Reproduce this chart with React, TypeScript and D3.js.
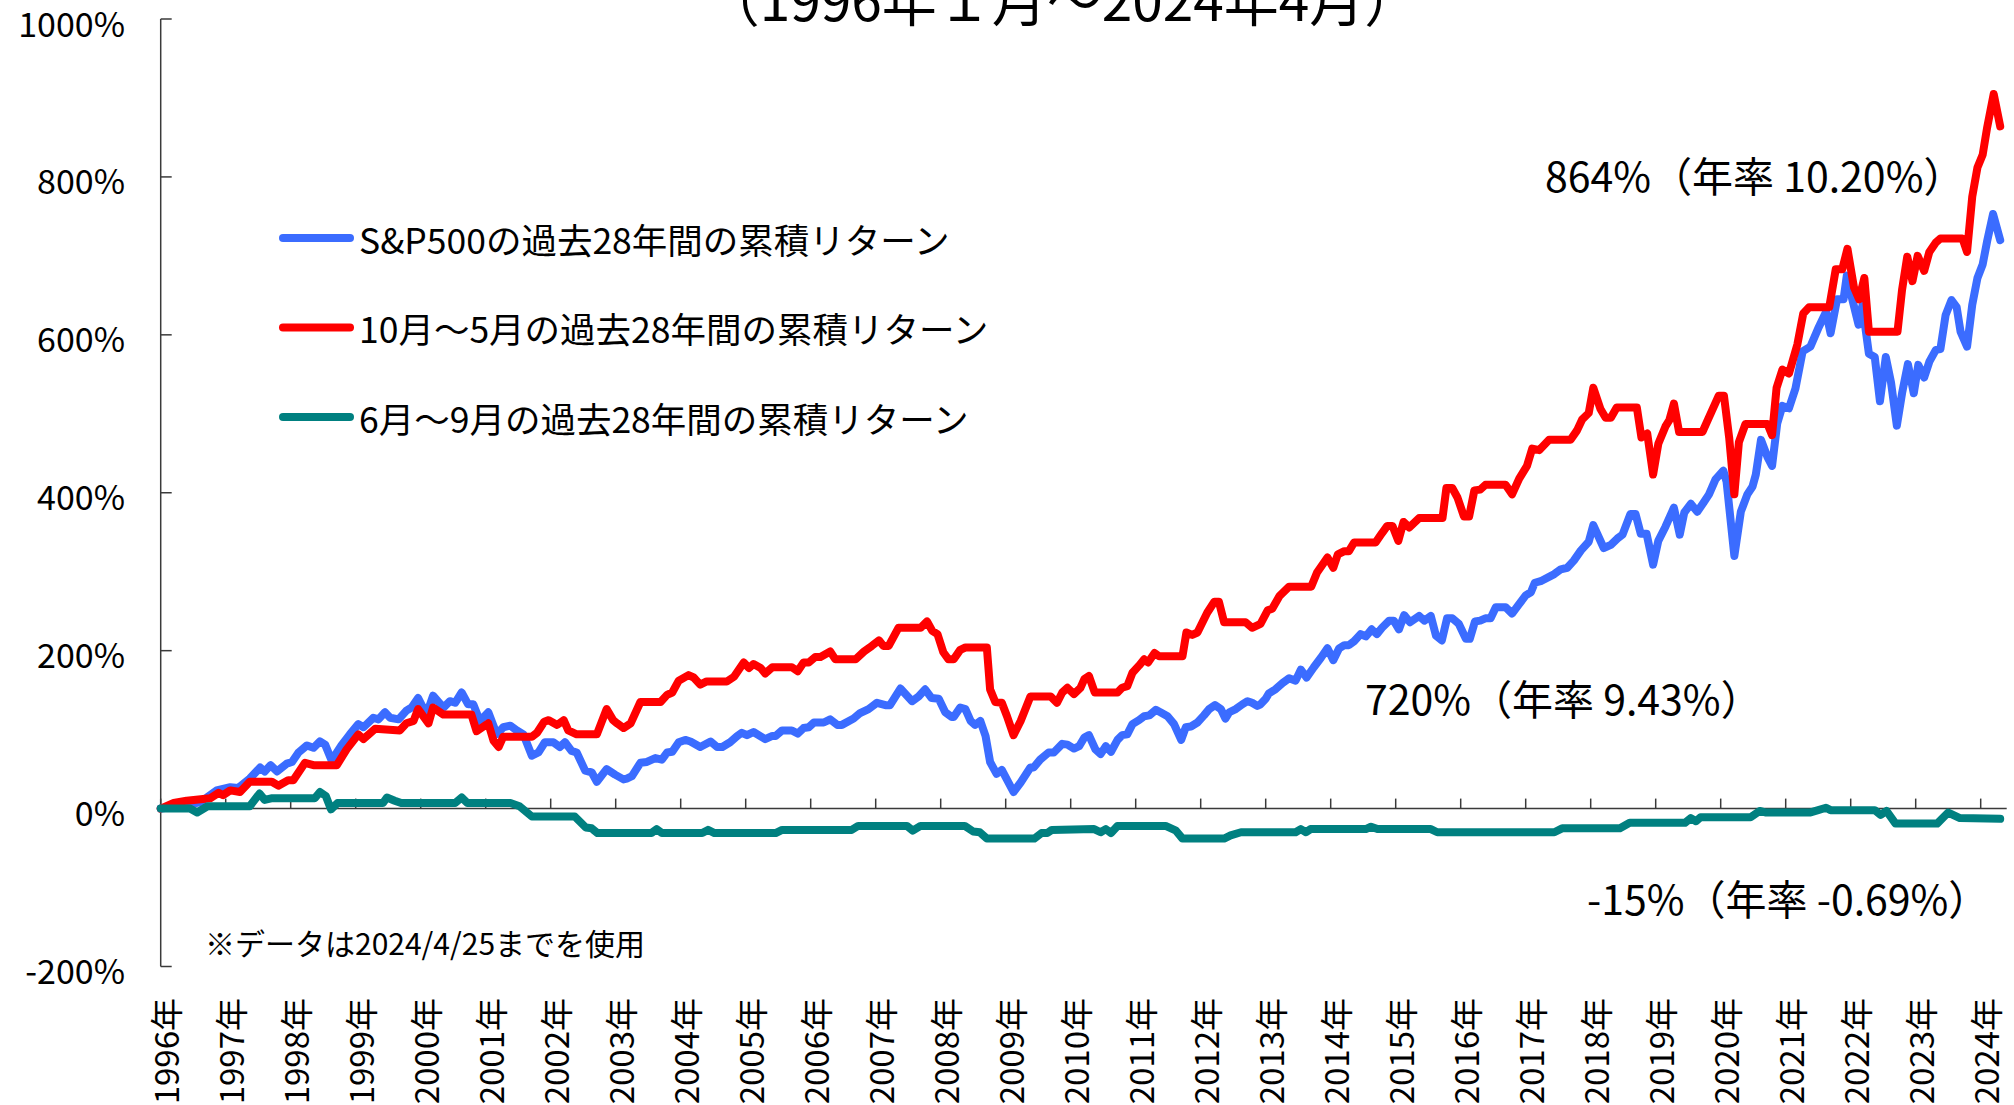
import React, { useEffect, useRef } from "react";
import * as d3 from "d3";

// each point: [years since Jan 1996, cumulative return in %]
const sp500Series: [number, number][] = [
  [0, 0], [0.3, 3], [0.6, 8], [0.71, 14], [0.86, 23], [1.07, 27], [1.19, 26], [1.37, 38], [1.53, 52], [1.6, 47],
  [1.69, 55], [1.79, 47], [1.94, 57], [2.02, 59], [2.12, 71], [2.25, 80], [2.35, 77], [2.45, 85], [2.53, 81], [2.63, 61],
  [2.78, 80], [2.91, 94], [3.04, 107], [3.12, 103], [3.27, 115], [3.35, 113], [3.45, 122], [3.53, 115], [3.66, 113], [3.78, 124],
  [3.86, 128], [3.96, 140], [4.09, 119], [4.19, 143], [4.35, 128], [4.45, 136], [4.53, 134], [4.63, 147], [4.73, 132], [4.81, 132],
  [4.91, 111], [5.04, 122], [5.17, 94], [5.27, 103], [5.38, 105], [5.48, 99], [5.58, 94], [5.71, 67], [5.81, 71], [5.91, 84],
  [6.04, 84], [6.14, 78], [6.22, 84], [6.32, 73], [6.4, 71], [6.53, 48], [6.63, 46], [6.71, 34], [6.86, 50], [6.99, 43],
  [7.12, 37], [7.17, 38], [7.25, 41], [7.38, 58], [7.48, 59], [7.61, 64], [7.71, 62], [7.79, 71], [7.87, 72], [7.97, 84],
  [8.07, 87], [8.15, 85], [8.3, 78], [8.46, 85], [8.56, 78], [8.64, 78], [8.76, 84], [8.87, 92], [8.94, 96], [9.02, 93],
  [9.12, 97], [9.3, 88], [9.41, 92], [9.46, 92], [9.56, 99], [9.71, 99], [9.8, 95], [9.89, 102], [9.97, 103], [10.05, 109],
  [10.2, 109], [10.3, 113], [10.41, 106], [10.48, 106], [10.66, 114], [10.76, 121], [10.89, 126], [11.02, 134], [11.15, 131], [11.22, 131],
  [11.38, 152], [11.56, 136], [11.66, 142], [11.76, 151], [11.86, 140], [11.97, 139], [12.07, 122], [12.17, 116], [12.2, 116], [12.3, 128],
  [12.38, 126], [12.46, 111], [12.53, 106], [12.61, 111], [12.69, 92], [12.76, 59], [12.86, 44], [12.94, 49], [13.12, 21], [13.23, 33],
  [13.38, 52], [13.43, 52], [13.53, 62], [13.66, 71], [13.74, 71], [13.87, 82], [13.95, 81], [14.05, 76], [14.13, 79], [14.21, 90],
  [14.28, 93], [14.38, 75], [14.46, 69], [14.54, 79], [14.62, 72], [14.72, 87], [14.79, 93], [14.87, 94], [14.95, 107], [15.05, 112],
  [15.13, 117], [15.21, 118], [15.31, 125], [15.38, 122], [15.49, 117], [15.59, 107], [15.7, 87], [15.77, 103], [15.85, 104], [15.95, 109],
  [16.05, 118], [16.13, 126], [16.22, 131], [16.31, 126], [16.38, 114], [16.44, 122], [16.54, 126], [16.64, 132], [16.72, 136], [16.79, 134],
  [16.87, 130], [16.92, 132], [17.0, 139], [17.05, 146], [17.15, 151], [17.26, 159], [17.36, 165], [17.46, 162], [17.54, 176], [17.63, 166],
  [17.74, 179], [17.85, 191], [17.95, 203], [18.04, 188], [18.13, 203], [18.21, 207], [18.28, 207], [18.36, 212], [18.46, 221], [18.54, 218],
  [18.63, 227], [18.71, 221], [18.79, 229], [18.9, 238], [18.97, 238], [19.05, 227], [19.13, 245], [19.22, 236], [19.36, 244], [19.44, 238],
  [19.54, 244], [19.62, 219], [19.71, 213], [19.79, 241], [19.87, 241], [19.97, 234], [20.08, 215], [20.14, 215], [20.22, 237], [20.3, 238],
  [20.38, 241], [20.46, 241], [20.54, 255], [20.69, 255], [20.79, 247], [20.89, 258], [21.0, 270], [21.08, 274], [21.14, 286], [21.23, 288],
  [21.44, 297], [21.54, 303], [21.64, 305], [21.74, 314], [21.85, 327], [21.97, 338], [22.04, 359], [22.2, 330], [22.31, 334], [22.41, 342],
  [22.49, 347], [22.61, 373], [22.69, 373], [22.77, 348], [22.86, 348], [22.96, 309], [23.04, 339], [23.15, 357], [23.28, 381], [23.37, 347],
  [23.44, 375], [23.54, 386], [23.64, 376], [23.74, 388], [23.82, 398], [23.92, 417], [24.04, 428], [24.09, 414], [24.21, 320], [24.31, 376],
  [24.41, 398], [24.49, 408], [24.54, 423], [24.62, 467], [24.72, 445], [24.79, 434], [24.87, 488], [24.95, 510], [25.05, 507], [25.15, 532],
  [25.26, 579], [25.38, 585], [25.51, 610], [25.62, 629], [25.69, 602], [25.79, 645], [25.89, 645], [25.94, 675], [26.03, 643], [26.12, 613],
  [26.18, 637], [26.28, 576], [26.37, 572], [26.45, 516], [26.54, 572], [26.62, 540], [26.71, 485], [26.79, 526], [26.88, 563], [26.97, 526],
  [27.04, 562], [27.13, 546], [27.21, 566], [27.31, 581], [27.38, 582], [27.46, 625], [27.55, 644], [27.63, 635], [27.69, 604], [27.79, 585],
  [27.87, 638], [27.95, 672], [28.03, 689], [28.1, 719], [28.19, 753], [28.3, 720],
];

const octMaySeries: [number, number][] = [
  [0, 0], [0.2, 7], [0.4, 10], [0.76, 13], [0.89, 20], [0.96, 17], [1.07, 23], [1.22, 21], [1.37, 34], [1.71, 34],
  [1.81, 29], [1.96, 36], [2.04, 36], [2.22, 58], [2.35, 55], [2.71, 55], [2.86, 75], [3.04, 94], [3.12, 88], [3.3, 101],
  [3.68, 99], [3.78, 108], [3.89, 111], [3.96, 126], [4.12, 108], [4.19, 128], [4.35, 119], [4.78, 119], [4.86, 98], [5.04, 108],
  [5.12, 86], [5.2, 78], [5.27, 91], [5.71, 91], [5.79, 96], [5.9, 110], [5.97, 112], [6.1, 106], [6.2, 112], [6.27, 99],
  [6.4, 94], [6.71, 94], [6.86, 126], [6.96, 112], [7.02, 108], [7.12, 102], [7.23, 108], [7.38, 135], [7.69, 135], [7.79, 144],
  [7.87, 147], [7.97, 162], [8.12, 169], [8.2, 166], [8.3, 157], [8.4, 161], [8.71, 161], [8.82, 167], [8.97, 185], [9.05, 178],
  [9.12, 183], [9.23, 178], [9.3, 171], [9.41, 179], [9.71, 179], [9.8, 174], [9.89, 185], [9.97, 185], [10.07, 192], [10.15, 192],
  [10.3, 199], [10.38, 189], [10.69, 189], [10.82, 199], [10.94, 206], [11.05, 213], [11.12, 206], [11.2, 206], [11.35, 229], [11.69, 229],
  [11.79, 237], [11.87, 225], [11.95, 221], [12.04, 198], [12.12, 189], [12.2, 189], [12.3, 201], [12.38, 204], [12.71, 204], [12.76, 151],
  [12.84, 135], [12.94, 134], [13.02, 117], [13.12, 93], [13.23, 111], [13.38, 142], [13.69, 142], [13.79, 134], [13.87, 147], [13.95, 153],
  [14.05, 145], [14.15, 153], [14.21, 164], [14.28, 168], [14.37, 147], [14.72, 147], [14.79, 153], [14.87, 155], [14.95, 172], [15.05, 181],
  [15.13, 189], [15.19, 185], [15.29, 197], [15.36, 193], [15.72, 193], [15.78, 223], [15.87, 220], [15.95, 223], [16.1, 248], [16.21, 262],
  [16.28, 262], [16.36, 236], [16.69, 236], [16.79, 229], [16.92, 234], [17.03, 251], [17.1, 253], [17.21, 269], [17.36, 281], [17.7, 281],
  [17.79, 299], [17.95, 318], [18.04, 305], [18.11, 322], [18.21, 326], [18.28, 326], [18.36, 337], [18.69, 337], [18.79, 349], [18.87, 358],
  [18.95, 358], [19.04, 339], [19.12, 363], [19.21, 356], [19.36, 368], [19.72, 368], [19.78, 406], [19.87, 406], [19.95, 394], [20.05, 370],
  [20.13, 370], [20.21, 403], [20.3, 404], [20.38, 410], [20.69, 410], [20.79, 398], [20.9, 418], [21.02, 434], [21.1, 456], [21.21, 454],
  [21.36, 467], [21.69, 467], [21.79, 479], [21.87, 493], [21.97, 501], [22.04, 533], [22.15, 506], [22.23, 495], [22.31, 495], [22.4, 508],
  [22.71, 508], [22.78, 470], [22.87, 475], [22.96, 423], [23.04, 462], [23.15, 484], [23.21, 492], [23.28, 513], [23.36, 477], [23.72, 477],
  [23.79, 490], [23.97, 523], [24.05, 523], [24.13, 470], [24.21, 398], [24.28, 464], [24.38, 487], [24.72, 487], [24.79, 473], [24.86, 533],
  [24.95, 556], [25.05, 551], [25.18, 588], [25.27, 627], [25.36, 635], [25.67, 635], [25.77, 683], [25.87, 683], [25.95, 709], [26.05, 660],
  [26.13, 645], [26.21, 672], [26.28, 604], [26.72, 604], [26.79, 657], [26.87, 699], [26.95, 668], [27.03, 700], [27.13, 681], [27.21, 705],
  [27.31, 717], [27.38, 722], [27.72, 722], [27.79, 705], [27.87, 775], [27.95, 812], [28.03, 828], [28.1, 863], [28.2, 905], [28.3, 864],
];

const junSepSeries: [number, number][] = [
  [0, 0], [0.45, 0], [0.56, -5], [0.72, 3], [1.37, 3], [1.52, 19], [1.6, 11], [1.7, 13], [2.37, 13], [2.45, 21],
  [2.54, 16], [2.62, -1], [2.72, 7], [3.42, 7], [3.48, 14], [3.6, 10], [3.7, 7], [4.53, 7], [4.63, 14], [4.72, 7],
  [5.38, 7], [5.52, 3], [5.71, -10], [6.37, -10], [6.54, -24], [6.63, -25], [6.72, -31], [7.55, -31], [7.63, -26], [7.71, -31],
  [8.33, -31], [8.42, -27], [8.52, -31], [9.46, -31], [9.56, -27], [10.63, -27], [10.73, -22], [11.48, -22], [11.57, -28], [11.69, -22],
  [12.37, -22], [12.5, -29], [12.6, -30], [12.71, -38], [13.44, -38], [13.55, -31], [13.64, -31], [13.71, -27], [14.36, -26], [14.46, -30],
  [14.54, -26], [14.62, -31], [14.72, -22], [15.46, -22], [15.62, -28], [15.72, -38], [16.36, -38], [16.46, -34], [16.62, -30], [17.46, -30],
  [17.54, -26], [17.62, -30], [17.69, -26], [18.54, -26], [18.62, -23], [18.72, -26], [19.54, -26], [19.64, -30], [21.44, -30], [21.56, -25],
  [22.45, -25], [22.6, -18], [23.45, -18], [23.54, -12], [23.62, -16], [23.69, -11], [24.46, -11], [24.6, -3], [24.7, -5], [25.37, -5],
  [25.5, -2], [25.62, 1], [25.69, -2], [26.37, -2], [26.46, -8], [26.55, -3], [26.69, -19], [27.33, -19], [27.5, -5], [27.68, -12],
  [28.3, -13],
];

const seriesNames = [
  "S&P500の過去28年間の累積リターン",
  "10月～5月の過去28年間の累積リターン",
  "6月～9月の過去28年間の累積リターン",
];
const seriesColors = ["#3B6CFF", "#FF0000", "#008080"];
const endLabels = ["720%（年率 9.43%）", "864%（年率 10.20%）", "-15%（年率 -0.69%）"];
const yTicks = [-200, 0, 200, 400, 600, 800, 1000];
const startYear = 1996;
const yearTicks = d3.range(startYear, 2025);
const subtitle = "（1996年１月～2024年4月）";
const footnote = "※データは2024/4/25までを使用";

const FONT = "'Noto Sans CJK JP', 'Noto Sans', sans-serif";

const App: React.FC = () => {
  const svgRef = useRef<SVGSVGElement | null>(null);

  useEffect(() => {
    if (!svgRef.current) return;
    const width = 2014;
    const height = 1105;

    const svg = d3.select(svgRef.current);
    svg.selectAll("*").remove();
    svg.attr("width", width).attr("height", height).style("font-family", FONT);

    svg.append("rect").attr("width", width).attr("height", height).attr("fill", "#fff");

    const x = d3.scaleLinear().domain([0, 28.4]).range([160.7, 2006.7]);
    const y = d3.scaleLinear().domain([-200, 1000]).range([966.5, 19]);
    const axisColor = "#3a3a3a";

    // y axis
    svg.append("line")
      .attr("x1", x(0)).attr("x2", x(0))
      .attr("y1", y(1000)).attr("y2", y(-200))
      .attr("stroke", axisColor).attr("stroke-width", 1.5);
    svg.append("g").selectAll("line").data(yTicks).enter().append("line")
      .attr("x1", x(0)).attr("x2", x(0) + 11)
      .attr("y1", (d) => y(d)).attr("y2", (d) => y(d))
      .attr("stroke", axisColor).attr("stroke-width", 1.5);
    svg.append("g").selectAll("text").data(yTicks).enter().append("text")
      .attr("x", 125).attr("y", (d) => y(d) + 3)
      .attr("text-anchor", "end").attr("dominant-baseline", "central")
      .style("font-size", "34px").attr("fill", "#000")
      .text((d) => `${d}%`);

    // x axis at 0%
    svg.append("line")
      .attr("x1", x(0)).attr("x2", x(28.4))
      .attr("y1", y(0)).attr("y2", y(0))
      .attr("stroke", axisColor).attr("stroke-width", 1.5);
    svg.append("g").selectAll("line").data(yearTicks).enter().append("line")
      .attr("x1", (d) => x(d - startYear)).attr("x2", (d) => x(d - startYear))
      .attr("y1", y(0)).attr("y2", y(0) - 10)
      .attr("stroke", axisColor).attr("stroke-width", 1.5);
    svg.append("g").selectAll("text").data(yearTicks).enter().append("text")
      .attr("transform", (d) => `translate(${x(d - startYear) + 4},998) rotate(-90)`)
      .attr("text-anchor", "end").attr("dominant-baseline", "central")
      .style("font-size", "33px").attr("fill", "#000")
      .text((d) => `${d}年`);

    // lines
    const line = d3.line<[number, number]>()
      .x((d) => x(d[0]))
      .y((d) => y(d[1]));
    const allSeries = [sp500Series, octMaySeries, junSepSeries];
    svg.append("g").selectAll("path").data(allSeries).enter().append("path")
      .attr("d", (d) => line(d) ?? "")
      .attr("fill", "none")
      .attr("stroke", (_, i) => seriesColors[i])
      .attr("stroke-width", 8)
      .attr("stroke-linejoin", "round")
      .attr("stroke-linecap", "round");

    // legend
    const legend = svg.append("g").selectAll("g").data(seriesNames).enter().append("g")
      .attr("transform", (_, i) => `translate(280,${238 + i * 89.5})`);
    legend.append("line")
      .attr("x1", 3).attr("x2", 70).attr("y1", 0).attr("y2", 0)
      .attr("stroke", (_, i) => seriesColors[i])
      .attr("stroke-width", 8).attr("stroke-linecap", "round");
    legend.append("text")
      .attr("x", 79).attr("y", 0).attr("dominant-baseline", "central")
      .style("font-size", "35.5px").attr("fill", "#000")
      .text((d) => d);

    // end-value annotations
    const annPos = [[1365, 715], [1545, 192], [1587, 915]];
    svg.append("g").selectAll("text").data(endLabels).enter().append("text")
      .attr("x", (_, i) => annPos[i][0]).attr("y", (_, i) => annPos[i][1])
      .style("font-size", "41px").attr("fill", "#000")
      .text((d) => d);

    // subtitle, cut off at the top edge as in the source
    svg.append("text")
      .attr("x", 1062).attr("y", 21).attr("text-anchor", "middle")
      .style("font-size", "55px").attr("fill", "#000")
      .text(subtitle);

    svg.append("text")
      .attr("x", 205).attr("y", 955)
      .style("font-size", "30px").attr("fill", "#000")
      .text(footnote);
  }, []);

  return (
    <svg ref={svgRef} style={{ position: "absolute", left: 0, top: 0, display: "block" }}></svg>
  );
};

export default App;
